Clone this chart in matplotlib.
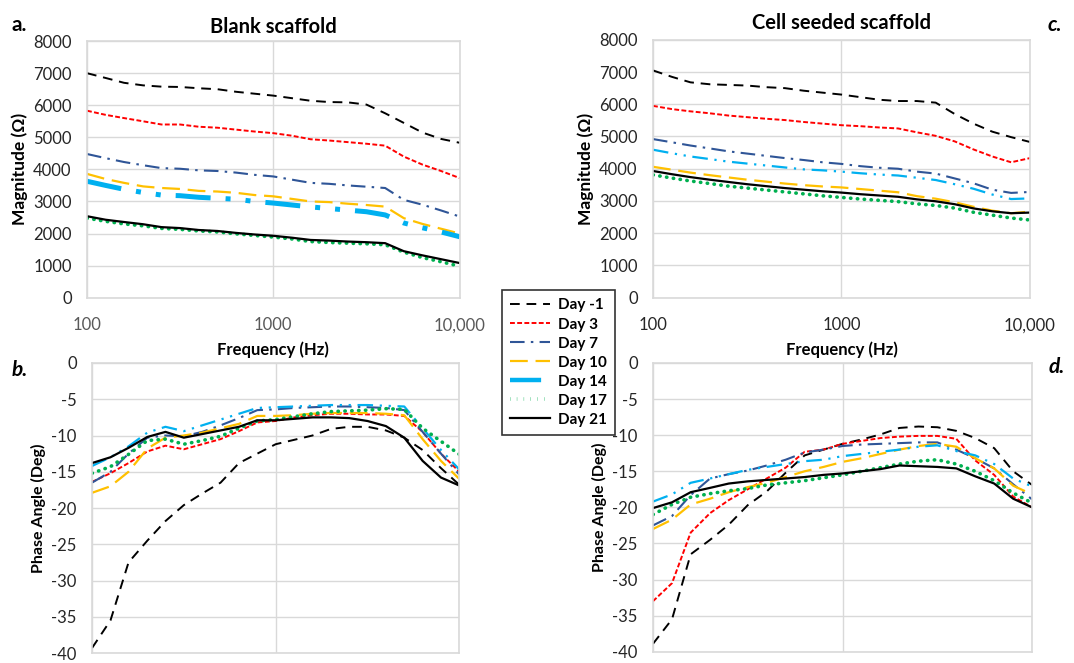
import matplotlib
matplotlib.use('Agg')
import matplotlib.pyplot as plt
import matplotlib.ticker as mticker

plt.rcParams['font.family'] = ['Lato', 'DejaVu Sans']
plt.rcParams['axes.unicode_minus'] = False

# frequencies (Hz), shared by every series
freq = [100, 126, 158, 200, 251, 316, 398, 501, 631, 794, 1000,
        1259, 1585, 1995, 2512, 3162, 3981, 5012, 6310, 7943, 10000]

days = ['Day -1', 'Day 3', 'Day 7', 'Day 10', 'Day 14', 'Day 17', 'Day 21']

# a. blank scaffold, magnitude (ohm)
blank_mag_m1 = [7000, 6850, 6700, 6620, 6580, 6570, 6530, 6500, 6420, 6360, 6300, 6220, 6140, 6100, 6090, 6020, 5750, 5450, 5150, 4950, 4830]
blank_mag_3 = [5830, 5700, 5600, 5500, 5400, 5400, 5330, 5300, 5240, 5180, 5130, 5050, 4940, 4900, 4850, 4800, 4740, 4400, 4150, 3950, 3730]
blank_mag_7 = [4480, 4350, 4230, 4130, 4040, 4020, 3970, 3950, 3900, 3830, 3780, 3680, 3580, 3550, 3500, 3460, 3420, 3050, 2900, 2720, 2530]
blank_mag_10 = [3860, 3700, 3580, 3470, 3420, 3390, 3330, 3310, 3270, 3200, 3160, 3080, 3000, 2980, 2930, 2890, 2840, 2480, 2300, 2150, 2000]
blank_mag_14 = [3630, 3500, 3380, 3280, 3200, 3180, 3130, 3100, 3070, 3000, 2950, 2890, 2830, 2780, 2730, 2680, 2580, 2330, 2180, 2050, 1900]
blank_mag_17 = [2480, 2380, 2300, 2240, 2160, 2130, 2080, 2050, 1990, 1940, 1890, 1830, 1750, 1720, 1700, 1680, 1650, 1420, 1250, 1120, 980]
blank_mag_21 = [2540, 2430, 2360, 2290, 2200, 2170, 2110, 2080, 2020, 1970, 1930, 1870, 1800, 1780, 1750, 1730, 1700, 1450, 1320, 1200, 1080]

# b. blank scaffold, phase angle (deg)
blank_ph_m1 = [-39.3, -35.5, -27.5, -24.5, -21.8, -19.6, -18.0, -16.5, -13.8, -12.5, -11.2, -10.6, -10.0, -9.1, -8.8, -8.8, -9.3, -10.3, -12.0, -14.5, -16.8]
blank_ph_3 = [-16.4, -15.2, -13.8, -12.2, -11.4, -11.9, -11.2, -10.5, -9.4, -8.2, -8.0, -7.5, -7.2, -7.0, -7.0, -7.1, -7.1, -7.3, -9.5, -12.5, -15.0]
blank_ph_7 = [-16.5, -15.0, -12.5, -10.3, -10.0, -10.1, -9.5, -8.6, -7.6, -6.5, -6.4, -6.2, -6.1, -6.0, -6.0, -6.1, -6.2, -6.5, -9.5, -12.5, -15.4]
blank_ph_10 = [-17.9, -17.0, -15.0, -11.8, -10.3, -10.0, -9.6, -9.0, -8.4, -7.3, -7.3, -7.2, -7.0, -6.9, -6.9, -6.9, -7.0, -7.2, -10.5, -13.5, -16.0]
blank_ph_14 = [-14.2, -13.0, -11.5, -9.6, -8.8, -9.4, -8.6, -7.8, -7.0, -6.2, -6.1, -6.0, -5.9, -5.8, -5.8, -5.8, -5.9, -6.0, -9.0, -12.0, -14.7]
blank_ph_17 = [-15.2, -14.3, -12.6, -10.7, -10.5, -11.2, -10.7, -10.1, -9.0, -8.0, -7.8, -7.4, -7.0, -6.7, -6.6, -6.5, -6.3, -6.4, -9.0, -10.8, -12.6]
blank_ph_21 = [-13.8, -13.0, -11.7, -10.2, -9.5, -10.3, -9.8, -9.3, -8.8, -7.9, -7.9, -7.7, -7.5, -7.5, -7.6, -8.0, -8.7, -10.3, -13.5, -15.8, -16.9]

# c. cell seeded scaffold, magnitude (ohm)
cell_mag_m1 = [7050, 6850, 6680, 6620, 6600, 6580, 6530, 6500, 6420, 6360, 6300, 6220, 6140, 6100, 6100, 6050, 5700, 5400, 5150, 4980, 4830]
cell_mag_3 = [5950, 5850, 5780, 5720, 5650, 5600, 5550, 5510, 5450, 5400, 5350, 5320, 5280, 5250, 5130, 5020, 4850, 4600, 4380, 4200, 4330]
cell_mag_7 = [4920, 4820, 4720, 4630, 4540, 4470, 4400, 4330, 4270, 4200, 4150, 4080, 4030, 4000, 3910, 3850, 3700, 3550, 3350, 3250, 3280]
cell_mag_10 = [4060, 3970, 3880, 3800, 3730, 3660, 3600, 3540, 3490, 3450, 3420, 3370, 3320, 3270, 3150, 3070, 2960, 2820, 2700, 2620, 2670]
cell_mag_14 = [4590, 4480, 4380, 4300, 4220, 4160, 4100, 4040, 3980, 3950, 3910, 3860, 3820, 3790, 3720, 3650, 3520, 3380, 3200, 3060, 3080]
cell_mag_17 = [3810, 3710, 3620, 3540, 3460, 3400, 3340, 3280, 3220, 3160, 3110, 3060, 3020, 2980, 2910, 2860, 2780, 2650, 2560, 2470, 2410]
cell_mag_21 = [3930, 3830, 3740, 3660, 3590, 3520, 3460, 3400, 3350, 3300, 3260, 3210, 3170, 3130, 3050, 2990, 2900, 2770, 2680, 2620, 2640]

# d. cell seeded scaffold, phase angle (deg)
cell_ph_m1 = [-38.9, -35.5, -26.5, -24.5, -22.4, -19.7, -17.8, -15.2, -12.8, -12.0, -11.2, -10.6, -9.9, -9.0, -8.8, -8.9, -9.4, -10.4, -11.8, -15.0, -16.9]
cell_ph_3 = [-33.0, -30.5, -23.5, -20.8, -19.0, -17.5, -16.0, -14.5, -12.3, -12.0, -11.2, -10.8, -10.4, -10.2, -10.1, -10.1, -10.5, -13.5, -15.5, -18.5, -20.0]
cell_ph_7 = [-22.5, -21.2, -18.3, -16.0, -15.4, -14.9, -14.2, -13.4, -12.4, -12.0, -11.5, -11.3, -11.2, -11.1, -11.0, -11.0, -12.0, -13.2, -14.6, -16.8, -18.9]
cell_ph_10 = [-23.0, -21.7, -19.6, -18.8, -17.9, -17.2, -16.6, -15.8, -15.0, -14.4, -13.7, -13.2, -12.6, -12.0, -11.5, -11.2, -11.6, -13.2, -14.6, -17.0, -18.2]
cell_ph_14 = [-19.2, -18.2, -16.6, -16.0, -15.4, -14.8, -14.4, -14.0, -13.6, -13.4, -12.9, -12.6, -12.3, -12.0, -11.6, -11.4, -12.2, -12.8, -14.0, -16.0, -17.1]
cell_ph_17 = [-21.0, -19.6, -18.6, -18.1, -17.7, -17.4, -16.9, -16.6, -16.3, -15.9, -15.5, -15.0, -14.5, -14.0, -13.6, -13.4, -14.0, -15.0, -16.3, -18.0, -19.4]
cell_ph_21 = [-20.1, -19.3, -17.9, -17.3, -16.7, -16.4, -16.2, -16.0, -15.8, -15.5, -15.3, -15.0, -14.7, -14.2, -14.3, -14.4, -14.6, -15.7, -16.7, -18.8, -20.0]

mag_ticks = [0, 1000, 2000, 3000, 4000, 5000, 6000, 7000, 8000]
ph_ticks = [0, -5, -10, -15, -20, -25, -30, -35, -40]
x_ticks = [100, 1000, 10000]
x_labels = ['100', '1000', '10,000']

# line looks (Excel style)
colors = ['black', '#ff0000', '#2f5597', '#ffc000', '#00b0f0', '#00b050', 'black']
dashes = [(5, 3.5), (2.5, 1.2), (7, 3, 1.2, 3), (8, 3.5), (7, 3, 1, 3, 1, 3), (0.1, 1.8), None]
widths = [1.4, 1.4, 1.5, 1.6, 1.6, 2.6, 1.6]

grid_c = '#d9d9d9'


def setup(ax, ticks, ylabel, ysize, xlabels=True):
    ax.set_xscale('log')
    ax.set_xlim(100, 10000)
    ax.set_ylim(min(ticks), max(ticks))
    ax.set_yticks(ticks)
    ax.set_yticklabels([str(t) for t in ticks])
    ax.set_xticks(x_ticks)
    ax.xaxis.set_minor_locator(mticker.NullLocator())
    if xlabels:
        ax.set_xticklabels(x_labels)
        ax.set_xlabel('Frequency (Hz)', fontsize=12, fontweight='bold', labelpad=6)
    else:
        ax.set_xticklabels([])
    ax.set_ylabel(ylabel, fontsize=ysize, fontweight='bold')
    ax.grid(True, color=grid_c, lw=1)
    ax.set_axisbelow(True)
    for s in ax.spines.values():
        s.set_color(grid_c)
        s.set_linewidth(1.2)
    ax.tick_params(axis='y', length=0, labelsize=12, colors='#262626', pad=11)
    ax.tick_params(axis='x', length=0, labelsize=12, colors='#262626', pad=14)


def draw(ax, series, wide14=False):
    for i, vals in enumerate(series):
        lw = widths[i]
        if wide14 and i == 4:
            lw = 3.6
        ln, = ax.plot(freq, vals, color=colors[i], lw=lw, label=days[i],
                      solid_capstyle='butt', dash_capstyle='round' if i == 5 else 'butt')
        if dashes[i] is not None:
            ln.set_dashes(dashes[i])


fig = plt.figure(figsize=(10.74, 6.63), dpi=100)

ax_a = fig.add_axes([0.081, 0.551, 0.347, 0.387])
ax_c = fig.add_axes([0.608, 0.551, 0.351, 0.389])
ax_b = fig.add_axes([0.0857, 0.015, 0.342, 0.4375])
ax_d = fig.add_axes([0.608, 0.017, 0.353, 0.4355])

draw(ax_a, [blank_mag_m1, blank_mag_3, blank_mag_7, blank_mag_10, blank_mag_14, blank_mag_17, blank_mag_21], wide14=True)
draw(ax_b, [blank_ph_m1, blank_ph_3, blank_ph_7, blank_ph_10, blank_ph_14, blank_ph_17, blank_ph_21])
draw(ax_c, [cell_mag_m1, cell_mag_3, cell_mag_7, cell_mag_10, cell_mag_14, cell_mag_17, cell_mag_21])
draw(ax_d, [cell_ph_m1, cell_ph_3, cell_ph_7, cell_ph_10, cell_ph_14, cell_ph_17, cell_ph_21])

setup(ax_a, mag_ticks, 'Magnitude (Ω)', 12.5)
setup(ax_c, mag_ticks, 'Magnitude (Ω)', 12.5)
setup(ax_b, ph_ticks, 'Phase Angle (Deg)', 11.5, xlabels=False)
setup(ax_d, ph_ticks, 'Phase Angle (Deg)', 11.5, xlabels=False)
ax_a.tick_params(axis='x', colors='#595959')

ax_a.set_title('Blank scaffold', fontsize=14.5, fontweight='bold', pad=6)
ax_c.set_title('Cell seeded scaffold', fontsize=14.5, fontweight='bold', pad=8)

fig.text(0.011, 0.962, 'a.', fontsize=15, fontweight='bold', va='center')
fig.text(0.011, 0.442, 'b.', fontsize=15, fontweight='bold', style='italic', va='center')
fig.text(0.975, 0.962, 'c.', fontsize=15, fontweight='bold', style='italic', va='center')
fig.text(0.976, 0.446, 'd.', fontsize=15, fontweight='bold', style='italic', va='center')

# shared legend between the panels
handles = []
for i in range(len(days)):
    h, = ax_c.plot([], [], color=colors[i], lw=widths[i] + (1.6 if i == 4 else 0), label=days[i])
    if dashes[i] is not None:
        h.set_dashes(dashes[i])
    handles.append(h)
leg = fig.legend(handles=handles, loc='upper left', bbox_to_anchor=(0.4675, 0.5625),
                 frameon=True, fancybox=False, fontsize=11, handlelength=2.6,
                 labelspacing=0.33, borderpad=0.55, handletextpad=0.5, borderaxespad=0)
leg.get_frame().set_edgecolor('black')
leg.get_frame().set_linewidth(1.2)
for t in leg.get_texts():
    t.set_fontweight('bold')

fig.savefig('out.png', dpi=100)
